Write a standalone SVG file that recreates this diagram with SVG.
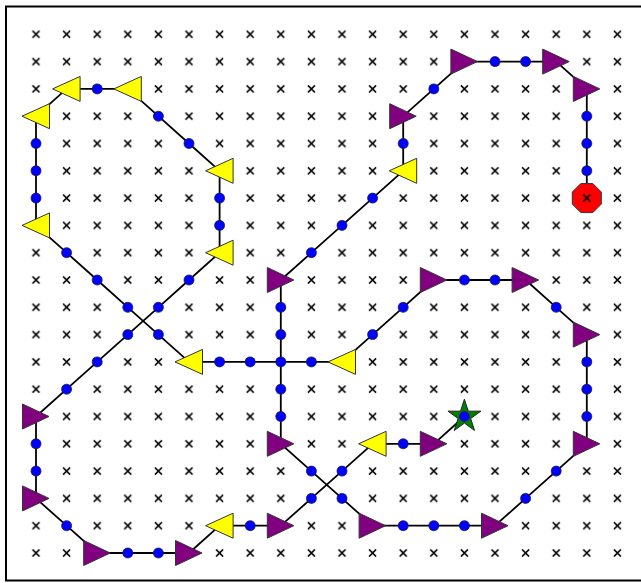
<svg xmlns="http://www.w3.org/2000/svg" width="641" height="583" viewBox="0 0 641 583">
<style>
.frame{fill:none;stroke:#000;stroke-width:2}
.conn{fill:none;stroke:#000;stroke-width:1.8;stroke-linejoin:round}
.dot{fill:#0000ff;stroke:#1a1a4d;stroke-width:0.8}
.tp{fill:#800080;stroke:#333;stroke-width:1}
.ty{fill:#ffff00;stroke:#333;stroke-width:1}
.oct{fill:#ff0000;stroke:#333;stroke-width:1}
.star{fill:#008000;stroke:#222;stroke-width:1}
.xm{fill:none;stroke:#000;stroke-width:1.5}
</style>
<defs>
<pattern id="xgrid" patternUnits="userSpaceOnUse" x="20.7" y="20.65" width="30.6" height="27.3">
<path class="xm" d="M11.8,10.15 L18.8,17.15 M11.8,17.15 L18.8,10.15"/>
</pattern>
<circle id="d" class="dot" r="5"/>
<path id="R" class="tp" d="M-13.5,-12.5 L13,0 L-13.5,12.5 Z"/>
<path id="L" class="ty" d="M13.5,-12.5 L-14,0 L13.5,12.5 Z"/>
<path id="S" class="star" d="M0,-17.3 L3.87,-5.33 L16.45,-5.35 L6.26,2.03 L10.17,14 L0,6.6 L-10.17,14 L-6.26,2.03 L-16.45,-5.35 L-3.87,-5.33 Z"/>
<path id="O" class="oct" d="M14.5,6 L6,14.5 L-6,14.5 L-14.5,6 L-14.5,-6 L-6,-14.5 L6,-14.5 L14.5,-6 Z"/>
</defs>
<rect class="frame" x="6" y="6.5" width="660" height="574"/>
<g id="connectors">
<polyline class="conn" points="464.4,416.5 433.8,443.8 403.2,443.8 372.6,443.8 342,471.1 311.4,498.4 280.8,525.7 250.2,525.7 219.6,525.7 189,553 158.4,553 127.8,553 97.2,553 66.6,525.7 36,498.4 36,471.1 36,443.8 36,416.5 66.6,389.2 97.2,361.9 127.8,334.6 158.4,307.3 189,280 219.6,252.7 219.6,225.4 219.6,198.1 219.6,170.8 189,143.5 158.4,116.2 127.8,88.9 97.2,88.9 66.6,88.9 36,116.2 36,143.5 36,170.8 36,198.1 36,225.4 66.6,252.7 97.2,280 127.8,307.3 158.4,334.6 189,361.9 219.6,361.9 250.2,361.9 280.8,361.9 311.4,361.9 342,361.9 372.6,334.6 403.2,307.3 433.8,280 464.4,280 495,280 525.6,280 556.2,307.3 586.8,334.6 586.8,361.9 586.8,389.2 586.8,416.5 586.8,443.8 556.2,471.1 525.6,498.4 495,525.7 464.4,525.7 433.8,525.7 403.2,525.7 372.6,525.7 342,498.4 311.4,471.1 280.8,443.8 280.8,416.5 280.8,389.2 280.8,361.9 280.8,334.6 280.8,307.3 280.8,280 311.4,252.7 342,225.4 372.6,198.1 403.2,170.8 403.2,143.5 403.2,116.2 433.8,88.9 464.4,61.6 495,61.6 525.6,61.6 556.2,61.6 586.8,88.9 586.8,116.2 586.8,143.5 586.8,170.8 586.8,198.1"/>
</g>
<g id="end"><use href="#O" x="586.8" y="198.1"/></g>
<rect x="20.7" y="20.65" width="612" height="546" fill="url(#xgrid)"/>
<g id="nodes">
<g id="start"><use href="#S" x="464.4" y="416.5"/><use href="#d" x="464.4" y="416.5"/></g>
<g id="n13_15"><use href="#R" x="433.8" y="443.8"/></g>
<g id="n12_15"><use href="#d" x="403.2" y="443.8"/></g>
<g id="n11_15"><use href="#L" x="372.6" y="443.8"/></g>
<g id="n10_16"><use href="#d" x="342" y="471.1"/></g>
<g id="n9_17"><use href="#d" x="311.4" y="498.4"/></g>
<g id="n8_18"><use href="#R" x="280.8" y="525.7"/></g>
<g id="n7_18"><use href="#d" x="250.2" y="525.7"/></g>
<g id="n6_18"><use href="#L" x="219.6" y="525.7"/></g>
<g id="n5_19"><use href="#R" x="189" y="553"/></g>
<g id="n4_19"><use href="#d" x="158.4" y="553"/></g>
<g id="n3_19"><use href="#d" x="127.8" y="553"/></g>
<g id="n2_19"><use href="#R" x="97.2" y="553"/></g>
<g id="n1_18"><use href="#d" x="66.6" y="525.7"/></g>
<g id="n0_17"><use href="#R" x="36" y="498.4"/></g>
<g id="n0_16"><use href="#d" x="36" y="471.1"/></g>
<g id="n0_15"><use href="#d" x="36" y="443.8"/></g>
<g id="n0_14"><use href="#R" x="36" y="416.5"/></g>
<g id="n1_13"><use href="#d" x="66.6" y="389.2"/></g>
<g id="n2_12"><use href="#d" x="97.2" y="361.9"/></g>
<g id="n3_11"><use href="#d" x="127.8" y="334.6"/></g>
<g id="n4_10"><use href="#d" x="158.4" y="307.3"/></g>
<g id="n5_9"><use href="#d" x="189" y="280"/></g>
<g id="n6_8"><use href="#L" x="219.6" y="252.7"/></g>
<g id="n6_7"><use href="#d" x="219.6" y="225.4"/></g>
<g id="n6_6"><use href="#d" x="219.6" y="198.1"/></g>
<g id="n6_5"><use href="#L" x="219.6" y="170.8"/></g>
<g id="n5_4"><use href="#d" x="189" y="143.5"/></g>
<g id="n4_3"><use href="#d" x="158.4" y="116.2"/></g>
<g id="n3_2"><use href="#L" x="127.8" y="88.9"/></g>
<g id="n2_2"><use href="#d" x="97.2" y="88.9"/></g>
<g id="n1_2"><use href="#L" x="66.6" y="88.9"/></g>
<g id="n0_3"><use href="#L" x="36" y="116.2"/></g>
<g id="n0_4"><use href="#d" x="36" y="143.5"/></g>
<g id="n0_5"><use href="#d" x="36" y="170.8"/></g>
<g id="n0_6"><use href="#d" x="36" y="198.1"/></g>
<g id="n0_7"><use href="#L" x="36" y="225.4"/></g>
<g id="n1_8"><use href="#d" x="66.6" y="252.7"/></g>
<g id="n2_9"><use href="#d" x="97.2" y="280"/></g>
<g id="n3_10"><use href="#d" x="127.8" y="307.3"/></g>
<g id="n4_11"><use href="#d" x="158.4" y="334.6"/></g>
<g id="n5_12"><use href="#L" x="189" y="361.9"/></g>
<g id="n6_12"><use href="#d" x="219.6" y="361.9"/></g>
<g id="n7_12"><use href="#d" x="250.2" y="361.9"/></g>
<g id="n8_12"><use href="#d" x="280.8" y="361.9"/></g>
<g id="n9_12"><use href="#d" x="311.4" y="361.9"/></g>
<g id="n10_12"><use href="#L" x="342" y="361.9"/></g>
<g id="n11_11"><use href="#d" x="372.6" y="334.6"/></g>
<g id="n12_10"><use href="#d" x="403.2" y="307.3"/></g>
<g id="n13_9"><use href="#R" x="433.8" y="280"/></g>
<g id="n14_9"><use href="#d" x="464.4" y="280"/></g>
<g id="n15_9"><use href="#d" x="495" y="280"/></g>
<g id="n16_9"><use href="#R" x="525.6" y="280"/></g>
<g id="n17_10"><use href="#d" x="556.2" y="307.3"/></g>
<g id="n18_11"><use href="#R" x="586.8" y="334.6"/></g>
<g id="n18_12"><use href="#d" x="586.8" y="361.9"/></g>
<g id="n18_13"><use href="#d" x="586.8" y="389.2"/></g>
<g id="n18_14"><use href="#d" x="586.8" y="416.5"/></g>
<g id="n18_15"><use href="#R" x="586.8" y="443.8"/></g>
<g id="n17_16"><use href="#d" x="556.2" y="471.1"/></g>
<g id="n16_17"><use href="#d" x="525.6" y="498.4"/></g>
<g id="n15_18"><use href="#R" x="495" y="525.7"/></g>
<g id="n14_18"><use href="#d" x="464.4" y="525.7"/></g>
<g id="n13_18"><use href="#d" x="433.8" y="525.7"/></g>
<g id="n12_18"><use href="#d" x="403.2" y="525.7"/></g>
<g id="n11_18"><use href="#R" x="372.6" y="525.7"/></g>
<g id="n10_17"><use href="#d" x="342" y="498.4"/></g>
<g id="n9_16"><use href="#d" x="311.4" y="471.1"/></g>
<g id="n8_15"><use href="#R" x="280.8" y="443.8"/></g>
<g id="n8_14"><use href="#d" x="280.8" y="416.5"/></g>
<g id="n8_13"><use href="#d" x="280.8" y="389.2"/></g>
<g id="n8_11"><use href="#d" x="280.8" y="334.6"/></g>
<g id="n8_10"><use href="#d" x="280.8" y="307.3"/></g>
<g id="n8_9"><use href="#R" x="280.8" y="280"/></g>
<g id="n9_8"><use href="#d" x="311.4" y="252.7"/></g>
<g id="n10_7"><use href="#d" x="342" y="225.4"/></g>
<g id="n11_6"><use href="#d" x="372.6" y="198.1"/></g>
<g id="n12_5"><use href="#L" x="403.2" y="170.8"/></g>
<g id="n12_4"><use href="#d" x="403.2" y="143.5"/></g>
<g id="n12_3"><use href="#R" x="403.2" y="116.2"/></g>
<g id="n13_2"><use href="#d" x="433.8" y="88.9"/></g>
<g id="n14_1"><use href="#R" x="464.4" y="61.6"/></g>
<g id="n15_1"><use href="#d" x="495" y="61.6"/></g>
<g id="n16_1"><use href="#d" x="525.6" y="61.6"/></g>
<g id="n17_1"><use href="#R" x="556.2" y="61.6"/></g>
<g id="n18_2"><use href="#R" x="586.8" y="88.9"/></g>
<g id="n18_3"><use href="#d" x="586.8" y="116.2"/></g>
<g id="n18_4"><use href="#d" x="586.8" y="143.5"/></g>
<g id="n18_5"><use href="#d" x="586.8" y="170.8"/></g>
</g>
</svg>
